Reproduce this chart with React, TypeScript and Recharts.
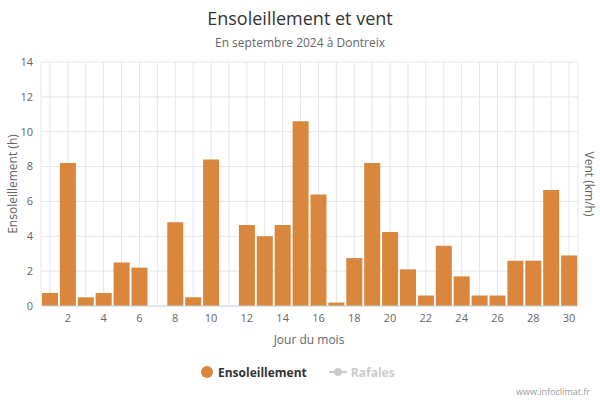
import React from "react";
import { Bar, BarChart, CartesianGrid, XAxis, YAxis } from "recharts";

// Données : ensoleillement journalier (h), septembre 2024 à Dontreix
const days = [
  1, 2, 3, 4, 5, 6, 7, 8, 9, 10, 11, 12, 13, 14, 15,
  16, 17, 18, 19, 20, 21, 22, 23, 24, 25, 26, 27, 28, 29, 30,
];
const sunshine = [
  0.75, 8.2, 0.5, 0.75, 2.5, 2.2, 0, 4.8, 0.5, 8.4, 0, 4.65, 4.0, 4.65, 10.6,
  6.4, 0.2, 2.75, 8.2, 4.25, 2.1, 0.6, 3.45, 1.7, 0.6, 0.6, 2.6, 2.6, 6.65, 2.9,
];
const yTicks = [0, 2, 4, 6, 8, 10, 12, 14];

const ORANGE = "#d8873c";
const FONT = "'Open Sans', 'DejaVu Sans', sans-serif";

const data = days.map((d, i) => ({ day: d, sun: sunshine[i] }));

const abs = (x: number, y: number): React.CSSProperties => ({
  position: "absolute",
  left: x,
  top: y,
  transform: "translate(-50%, -50%)",
  whiteSpace: "nowrap",
});

export default function App() {
  return (
    <div style={{ position: "absolute", left: 0, top: 0, width: 600, height: 400, fontFamily: FONT, background: "#fff" }}>
      <BarChart
        width={600}
        height={400}
        data={data}
        margin={{ top: 62, right: 22, bottom: 64, left: 0 }}
        barCategoryGap={1}
      >
        <CartesianGrid stroke="#e6e6e6" vertical={true} />
        <XAxis
          dataKey="day"
          interval={0}
          height={30}
          tickLine={false}
          stroke="#ccd6eb"
          tick={{ fill: "#666", fontSize: 11, fontFamily: FONT }}
          tickFormatter={(v: number) => (v % 2 === 0 ? String(v) : "")}
        />
        <YAxis
          width={41}
          domain={[0, 14]}
          ticks={yTicks}
          axisLine={false}
          tickLine={false}
          tick={{ fill: "#666", fontSize: 11, fontFamily: FONT }}
        />
        <Bar dataKey="sun" fill={ORANGE} isAnimationActive={false} />
      </BarChart>

      <div style={{ ...abs(300, 18), fontSize: 18, color: "#333" }}>Ensoleillement et vent</div>
      <div style={{ ...abs(300, 42), fontSize: 12, color: "#666" }}>En septembre 2024 à Dontreix</div>

      <div style={{ ...abs(12, 184), transform: "translate(-50%, -50%) rotate(-90deg)", fontSize: 12, color: "#666" }}>
        Ensoleillement (h)
      </div>
      <div style={{ ...abs(589, 184), transform: "translate(-50%, -50%) rotate(90deg)", fontSize: 12, color: "#666" }}>
        Vent (km/h)
      </div>
      <div style={{ ...abs(309, 339), fontSize: 12, color: "#666" }}>Jour du mois</div>

      <div style={{ position: "absolute", left: 201, top: 364, display: "flex", alignItems: "center", fontSize: 12, fontWeight: "bold", height: 16 }}>
        <span style={{ width: 12, height: 12, borderRadius: 6, background: ORANGE, display: "inline-block" }} />
        <span style={{ marginLeft: 5, color: "#333" }}>Ensoleillement</span>
        <svg width={18} height={10} style={{ marginLeft: 22 }}>
          <line x1={0} y1={5} x2={18} y2={5} stroke="#ccc" strokeWidth={2} />
          <circle cx={9} cy={5} r={4} fill="#ccc" />
        </svg>
        <span style={{ marginLeft: 4, color: "#ccc" }}>Rafales</span>
      </div>

      <div style={{ position: "absolute", right: 10, top: 385, fontSize: 9, color: "#999" }}>www.infoclimat.fr</div>
    </div>
  );
}
